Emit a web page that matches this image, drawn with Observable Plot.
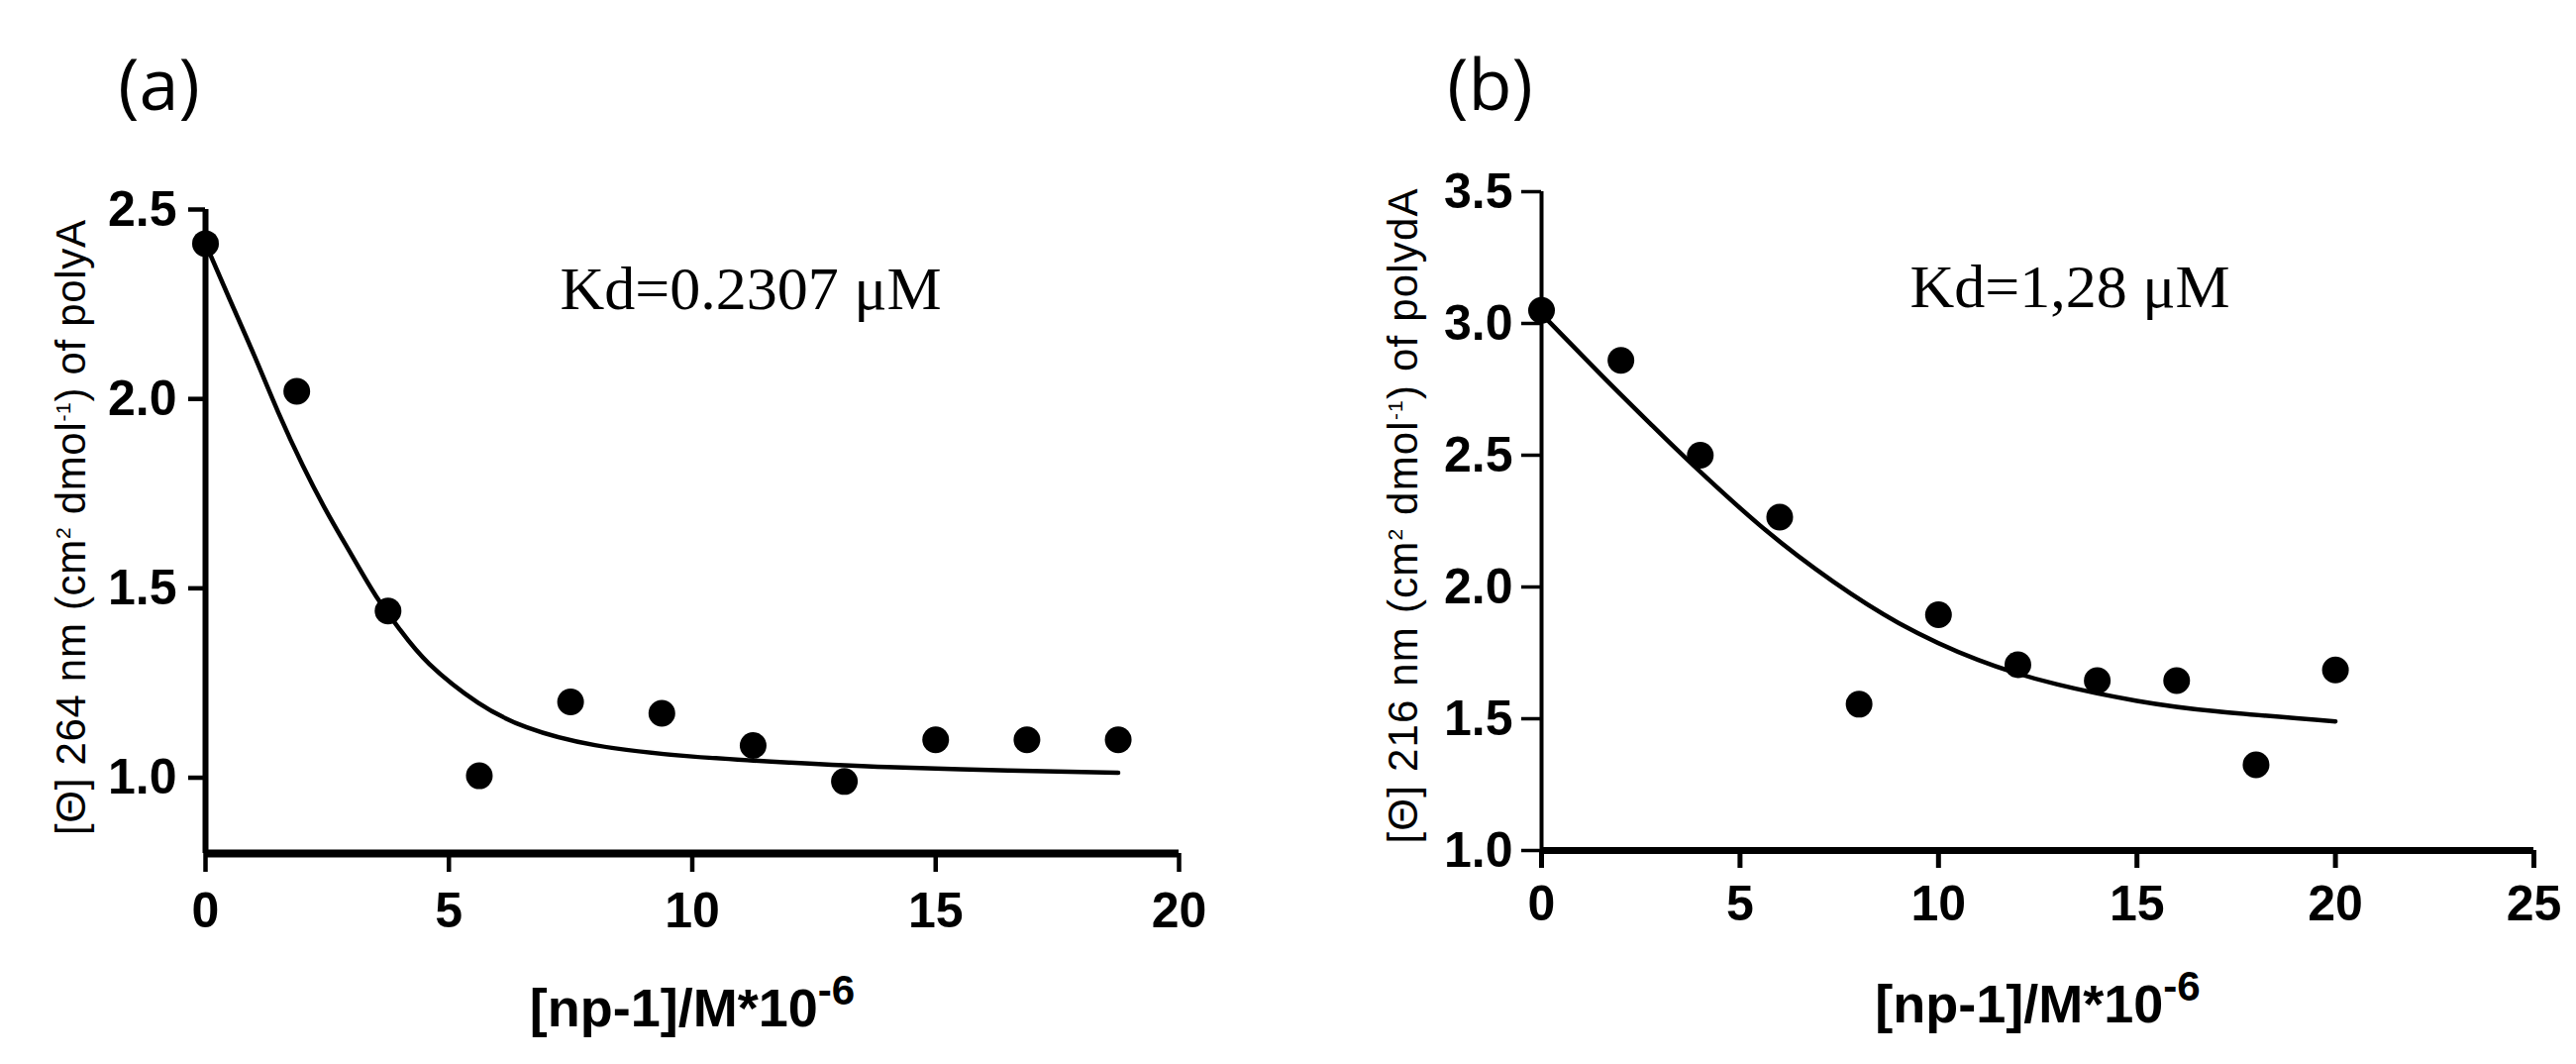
<!DOCTYPE html>
<html><head><meta charset="utf-8">
<script src="https://cdn.jsdelivr.net/npm/d3@7"></script>
<script src="https://cdn.jsdelivr.net/npm/@observablehq/plot@0.6"></script>
<style>
body{margin:0;background:#fff;}
#wrap{position:relative;width:2601px;height:1074px;overflow:hidden;background:#fff;}
#wrap svg{position:absolute;top:0;}
</style></head><body><div id="wrap"></div>
<script>
// ---- Panel (a): polyA ----
const xA = [0, 1.875, 3.75, 5.625, 7.5, 9.375, 11.25, 13.125, 15, 16.875, 18.75];
const yA = [2.41, 2.02, 1.44, 1.005, 1.20, 1.17, 1.085, 0.99, 1.10, 1.10, 1.10];
const fitXA = [0, 0.5, 1, 1.5, 2, 2.5, 3, 3.5, 4, 4.6, 5.6, 6.6, 8, 10, 12, 14, 16.5, 18.75];
const fitYA = [2.41, 2.262, 2.115, 1.963, 1.824, 1.70, 1.588, 1.48, 1.39, 1.30, 1.198, 1.133, 1.086, 1.056, 1.04, 1.028, 1.019, 1.013];
const xTicksA = [0, 5, 10, 15, 20];
const yTicksA = [1.0, 1.5, 2.0, 2.5];
const kdA = "Kd=0.2307 μM";
const tagA = "(a)";
const yLabelA = "[Θ] 264 nm (cm^{2} dmol^{-1}) of polyA";

// ---- Panel (b): polydA ----
const xB = [0, 2, 4, 6, 8, 10, 12, 14, 16, 18, 20];
const yB = [3.05, 2.86, 2.50, 2.265, 1.555, 1.895, 1.705, 1.645, 1.645, 1.325, 1.685];
const fitXB = [0, 1.5, 2.75, 3.85, 5.65, 7.35, 9, 11, 13, 15, 17, 20];
const fitYB = [3.036, 2.805, 2.618, 2.458, 2.215, 2.02, 1.863, 1.723, 1.63, 1.568, 1.528, 1.49];
const xTicksB = [0, 5, 10, 15, 20, 25];
const yTicksB = [1.0, 1.5, 2.0, 2.5, 3.0, 3.5];
const kdB = "Kd=1,28 μM";
const tagB = "(b)";
const yLabelB = "[Θ] 216 nm (cm^{2} dmol^{-1}) of polydA";

const xLabel = "[np-1]/M*10^{-6}";

function superscriptify(svg) {
  svg.querySelectorAll("text").forEach(t => {
    const s = t.textContent;
    if (!s.includes("^{")) return;
    const isY = s.startsWith("[Θ]");
    const size = isY ? "50%" : "78%";
    const shift = isY ? "15" : "22";
    t.textContent = "";
    for (const p of s.split(/(\^\{[^}]*\})/)) {
      if (!p) continue;
      const ts = document.createElementNS("http://www.w3.org/2000/svg", "tspan");
      if (p.startsWith("^{")) {
        ts.textContent = p.slice(2, -1);
        ts.setAttribute("baseline-shift", shift);
        ts.setAttribute("font-size", size);
      } else ts.textContent = p;
      t.appendChild(ts);
    }
  });
}

function panel(o) {
  const pts = o.xs.map((x, i) => ({x, y: o.ys[i]}));
  const fit = o.fx.map((x, i) => ({x, y: o.fy[i]}));
  const svg = Plot.plot({
    width: o.width, height: 1074,
    marginLeft: o.ml, marginRight: o.mr, marginTop: o.mt, marginBottom: o.mb,
    x: {domain: o.xDomain},
    y: {domain: o.yDomain},
    style: {fontFamily: "'Liberation Sans', Arial, sans-serif", background: "white", overflow: "visible", color: "black"},
    marks: [
      Plot.axisX({ticks: o.xTicks, tickSize: o.xTickSize, strokeWidth: o.xTickW, tickPadding: o.xPad,
        fontSize: 50, fontWeight: "bold", tickFormat: d => String(d), label: null}),
      Plot.axisY({ticks: o.yTicks, tickSize: o.yTickSize, strokeWidth: o.yTickW, tickPadding: o.yPad,
        fontSize: 50, fontWeight: "bold", tickFormat: d => d.toFixed(1), label: null}),
      Plot.ruleX([o.xDomain[0]], {y1: o.yDomain[0], y2: o.yDomain[1], stroke: "black", strokeWidth: o.yAxisW}),
      Plot.ruleY([o.yDomain[0]], {x1: o.xDomain[0], x2: o.xDomain[1], stroke: "black", strokeWidth: o.xAxisW}),
      Plot.line(fit, {x: "x", y: "y", curve: "natural", stroke: "black", strokeWidth: 4.5}),
      Plot.dot(pts, {x: "x", y: "y", r: 13.5, fill: "black"}),
      Plot.text([o.kd], {frameAnchor: "top-left", dx: o.kdDx, dy: o.kdDy, textAnchor: "start", lineAnchor: "bottom",
        fontFamily: "'Liberation Serif', 'Times New Roman', serif", fontSize: 62, fill: "black"}),
      Plot.text([o.tag], {frameAnchor: "top-left", dx: o.tagDx, dy: o.tagDy, textAnchor: "middle", lineAnchor: "bottom",
        fontFamily: "'Open Sans', sans-serif", fontSize: 72, fill: "black"}),
      Plot.text([o.yLabel], {frameAnchor: "left", dx: o.ylDx, dy: o.ylDy, rotate: -90, textAnchor: "middle", lineAnchor: "middle",
        fontSize: 42, fill: "black"}),
      Plot.text([xLabel], {frameAnchor: "bottom", dy: o.xlDy, textAnchor: "middle", lineAnchor: "middle",
        fontSize: 54, fontWeight: "bold", fill: "black"})
    ]
  });
  superscriptify(svg);
  svg.querySelectorAll("text").forEach(t => {
    if (t.textContent.startsWith("[Θ]")) {
      t.setAttribute("textLength", o.ylLen);
      t.setAttribute("lengthAdjust", "spacing");
    }
  });
  svg.style.left = o.left + "px";
  return svg;
}

const wrap = document.getElementById("wrap");
wrap.appendChild(panel({
  left: 0, width: 1300, ml: 207, mr: 110, mt: 211, mb: 213,
  xs: xA, ys: yA, fx: fitXA, fy: fitYA, xDomain: [0, 20], yDomain: [0.8, 2.5],
  xTicks: xTicksA, yTicks: yTicksA,
  xTickSize: 19, xTickW: 4.5, xPad: 20, yTickSize: 17, yTickW: 4.5, yPad: 12,
  yAxisW: 6, xAxisW: 8,
  kd: kdA, kdDx: 358, kdDy: 100, tag: tagA, tagDx: -47, tagDy: -101,
  yLabel: yLabelA, ylDx: -135, ylDy: -4, ylLen: 621, xlDy: 157
}));
wrap.appendChild(panel({
  left: 1300, width: 1301, ml: 256, mr: 43, mt: 193, mb: 216,
  xs: xB, ys: yB, fx: fitXB, fy: fitYB, xDomain: [0, 25], yDomain: [1.0, 3.5],
  xTicks: xTicksB, yTicks: yTicksB,
  xTickSize: 18, xTickW: 5, xPad: 17, yTickSize: 20, yTickW: 3.5, yPad: 9,
  yAxisW: 4, xAxisW: 7,
  kd: kdB, kdDx: 372, kdDy: 116, tag: tagB, tagDx: -52, tagDy: -83,
  yLabel: yLabelB, ylDx: -139, ylDy: -5, ylLen: 661, xlDy: 156
}));
</script></body></html>
